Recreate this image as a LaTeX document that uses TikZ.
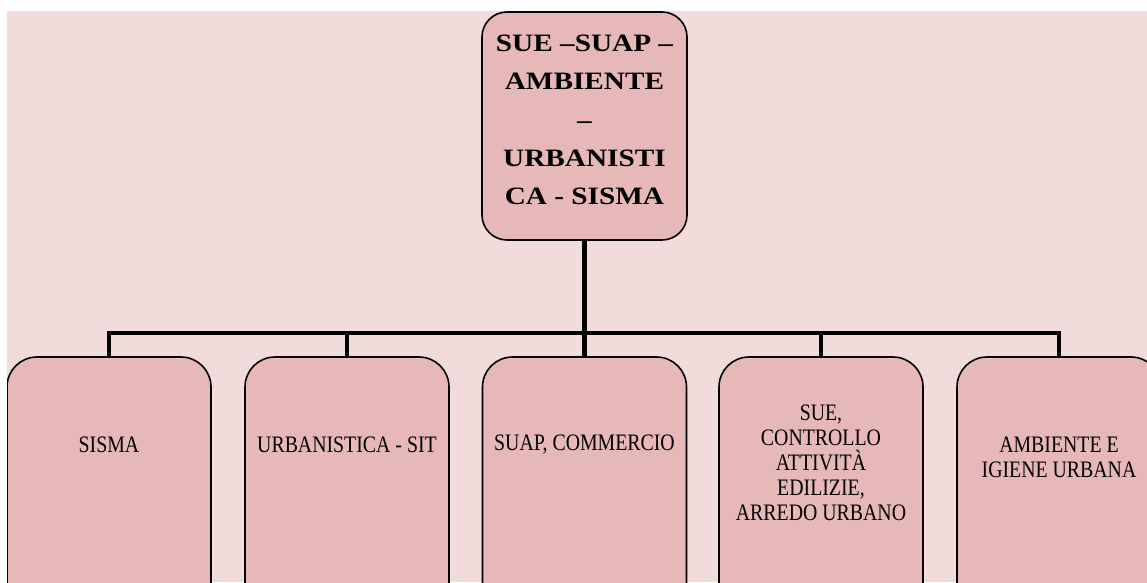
\documentclass[tikz,border=0pt]{standalone}
\usepackage{fontspec}
\setmainfont{Liberation Serif}
\newfontfamily\leaffont[FakeStretch=0.84,Ligatures=TeX]{Liberation Serif}
\newfontfamily\headfont[FakeStretch=1.17,Ligatures=TeX]{Liberation Serif}
\usepackage{tikz}
\usetikzlibrary{positioning}
\definecolor{bgpink}{RGB}{242,220,219}
\definecolor{boxpink}{RGB}{230,185,184}
\tikzstyle{headbox}=[draw=black,line width=.8pt,fill=boxpink,rounded corners=12.5pt,
  minimum width=102.5pt,minimum height=114pt,inner sep=0pt]
\tikzstyle{leaf}=[draw=black,line width=.8pt,fill=boxpink,rounded corners=15pt,
  minimum width=102pt,minimum height=130pt,inner sep=0pt]
\tikzstyle{leaftext}=[align=center,font=\leaffont\fontsize{11.8}{12.5}\selectfont,inner sep=0pt]
\tikzstyle{link}=[line width=2.4pt,black]

\begin{document}
\begin{tikzpicture}[x=.5pt,y=-.5pt]
	\useasboundingbox (0,0) rectangle (1147,583);
	\fill[bgpink] (7,11) rectangle (1147,582);
	\clip (7,11) rectangle (1147,582);
	% top box
	\node[headbox] (head) at (584.5,126) {};
	\node[align=center,inner sep=0pt,font=\headfont\fontsize{12.5}{19.1}\selectfont\bfseries]
		at (584.5,120) {SUE –SUAP –\\AMBIENTE\\–\\URBANISTI\\CA - SISMA};
	\coordinate (bar) at (584.5,333);
	% leaves
	\node[leaf] (sisma) at (109,487) {};
	\node[leaf] (urb) at (347,487) {};
	\node[leaf] (suap) at (584.5,487) {};
	\node[leaf] (sue) at (821,487) {};
	\node[leaf] (amb) at (1059,487) {};
	\node[leaftext] at (109,445) {SISMA};
	\node[leaftext] at (347,445) {URBANISTICA - SIT};
	\node[leaftext] at (584.5,445) {SUAP, COMMERCIO};
	\node[leaftext] at (821,463) {SUE,\\CONTROLLO\\ATTIVITÀ\\EDILIZIE,\\ARREDO URBANO};
	\node[leaftext] at (1059,457) {AMBIENTE E\\IGIENE URBANA};
	% connectors
	\draw[link] (head.south) -- (bar);
	\foreach \n in {sisma,urb,suap,sue,amb}
		\draw[link] (\n.north) |- (bar);
\end{tikzpicture}
\end{document}
